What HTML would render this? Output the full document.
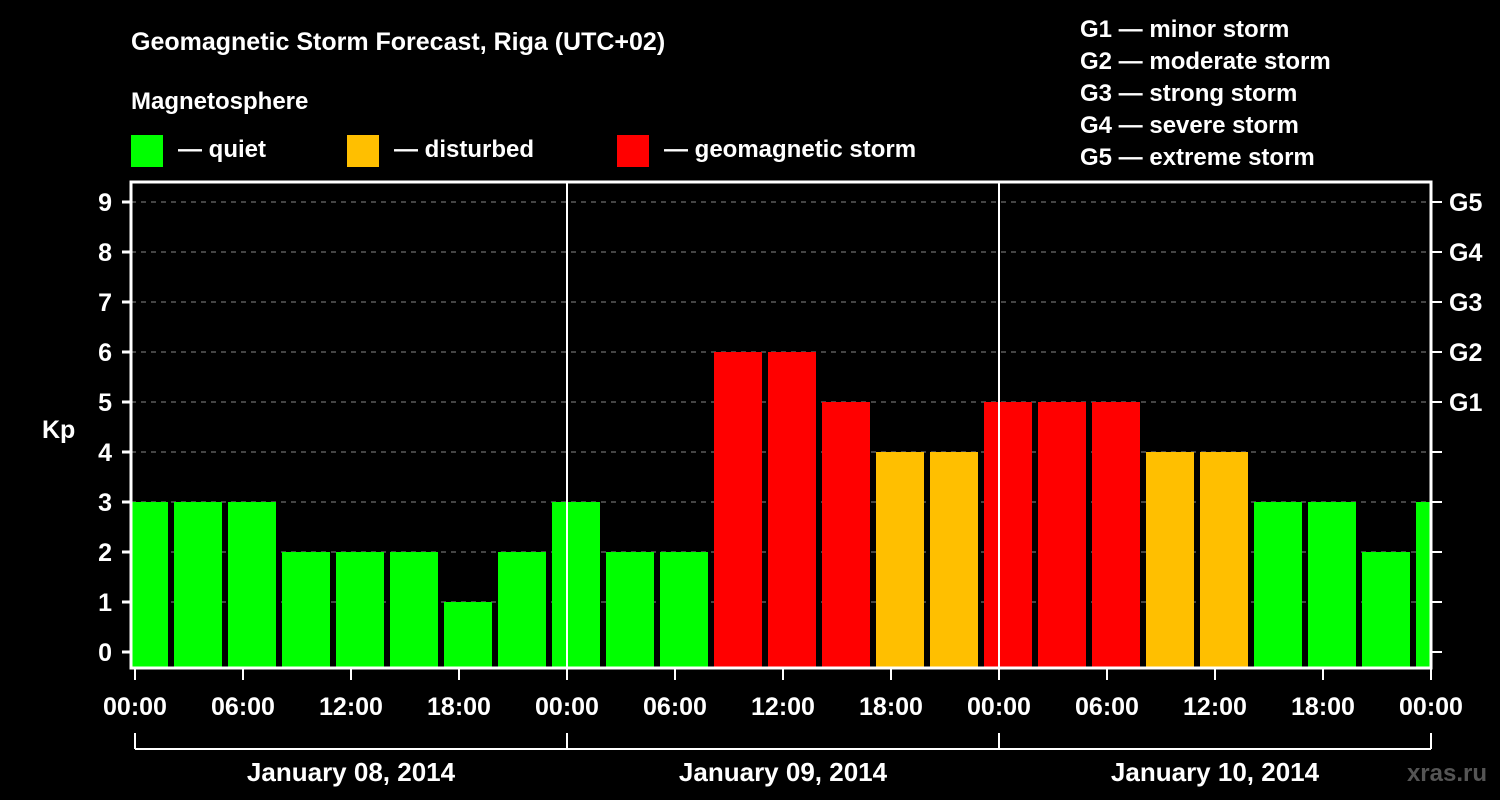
<!DOCTYPE html>
<html><head><meta charset="utf-8"><style>
body{margin:0;background:#000;width:1500px;height:800px;overflow:hidden}
svg{display:block}
text{font-family:"Liberation Sans",Arial,sans-serif;font-weight:bold;fill:#fff}
</style></head><body>
<svg id="chart" width="1500" height="800">
<text x="131" y="50" font-size="25">Geomagnetic Storm Forecast, Riga (UTC+02)</text>
<text x="131" y="109" font-size="24">Magnetosphere</text>
<g><rect x="131" y="135" width="32" height="32" fill="#00ff00"/><text x="178" y="157" font-size="24">— quiet</text></g>
<g><rect x="347" y="135" width="32" height="32" fill="#ffbf00"/><text x="394" y="157" font-size="24">— disturbed</text></g>
<g><rect x="617" y="135" width="32" height="32" fill="#ff0000"/><text x="664" y="157" font-size="24">— geomagnetic storm</text></g>
<g font-size="24">
<text x="1080" y="37">G1 — minor storm</text>
<text x="1080" y="69">G2 — moderate storm</text>
<text x="1080" y="101">G3 — strong storm</text>
<text x="1080" y="133">G4 — severe storm</text>
<text x="1080" y="165">G5 — extreme storm</text>
</g>
<defs><clipPath id="pc"><rect x="132" y="183" width="1298" height="484"/></clipPath></defs>
<g id="grid"></g>
<g id="bars" clip-path="url(#pc)"></g>
<g id="axes"></g>
<text x="1487" y="781" font-size="24" fill="#555" style="fill:#555" text-anchor="end">xras.ru</text>
</svg>
<script>
const kpValues=[3,3,3,2,2,2,1,2,3,2,2,6,6,5,4,4,5,5,5,4,4,3,3,2,3];
const yTicks=[0,1,2,3,4,5,6,7,8,9];
const gLabels=["","","","","","G1","G2","G3","G4","G5"];
const xTickLabels=["00:00","06:00","12:00","18:00","00:00","06:00","12:00","18:00","00:00","06:00","12:00","18:00","00:00"];
const dayLabels=["January 08, 2014","January 09, 2014","January 10, 2014"];
const NS="http://www.w3.org/2000/svg";
const x0=135,pxH=18;
const X=h=>x0+h*pxH;
const Y=v=>652-50*v;
const L=131,R=1431,T=182,B=668;
function mk(tag,attrs,parent,txt){const e=document.createElementNS(NS,tag);for(const k in attrs)e.setAttribute(k,attrs[k]);if(txt!==undefined)e.textContent=txt;parent.appendChild(e);return e;}
const grid=document.getElementById('grid'),bars=document.getElementById('bars'),axes=document.getElementById('axes');
yTicks.forEach(v=>{if(v>0){const l=mk('line',{x1:L,x2:R,y1:Y(v),y2:Y(v),stroke:'#888','stroke-dasharray':'5,5','stroke-width':1},grid);

}});
kpValues.forEach((v,i)=>{const c=X(0.5+3*i);const col=v>=5?'#ff0000':(v>=4?'#ffbf00':'#00ff00');
const r=mk('rect',{x:c-24,y:Y(v),width:48,height:B-Y(v),fill:col},bars);

});
// day separators
[1,2].forEach(d=>{const l=mk('line',{x1:X(24*d),x2:X(24*d),y1:T,y2:B,stroke:'#fff','stroke-width':2},axes);

});
const fr=mk('rect',{x:L,y:T,width:R-L,height:B-T,fill:'none',stroke:'#fff','stroke-width':3},axes);


yTicks.forEach(v=>{mk('line',{x1:122,x2:L,y1:Y(v),y2:Y(v),stroke:'#fff','stroke-width':3},axes);
mk('line',{x1:R,x2:1442,y1:Y(v),y2:Y(v),stroke:'#fff','stroke-width':2},axes);
const t=mk('text',{x:112,y:Y(v)+9,'font-size':25,'text-anchor':'end'},axes,String(v));


if(gLabels[v]){const g=mk('text',{x:1449,y:Y(v)+9,'font-size':25},axes,gLabels[v]);

}});
const kp=mk('text',{x:42,y:438,'font-size':25},axes,'Kp');


xTickLabels.forEach((s,i)=>{const x=X(6*i);mk('line',{x1:x,x2:x,y1:B,y2:680,stroke:'#fff','stroke-width':2},axes);
const t=mk('text',{x:x,y:715,'font-size':25,'text-anchor':'middle'},axes,s);

});
mk('line',{x1:X(0),x2:X(72),y1:749,y2:749,stroke:'#fff','stroke-width':2},axes);
[0,1,2,3].forEach(d=>mk('line',{x1:X(24*d),x2:X(24*d),y1:733,y2:749,stroke:'#fff','stroke-width':2},axes));
dayLabels.forEach((s,d)=>{const t=mk('text',{x:X(24*d+12),y:781,'font-size':26,'text-anchor':'middle'},axes,s);

});
</script>
</body></html>
